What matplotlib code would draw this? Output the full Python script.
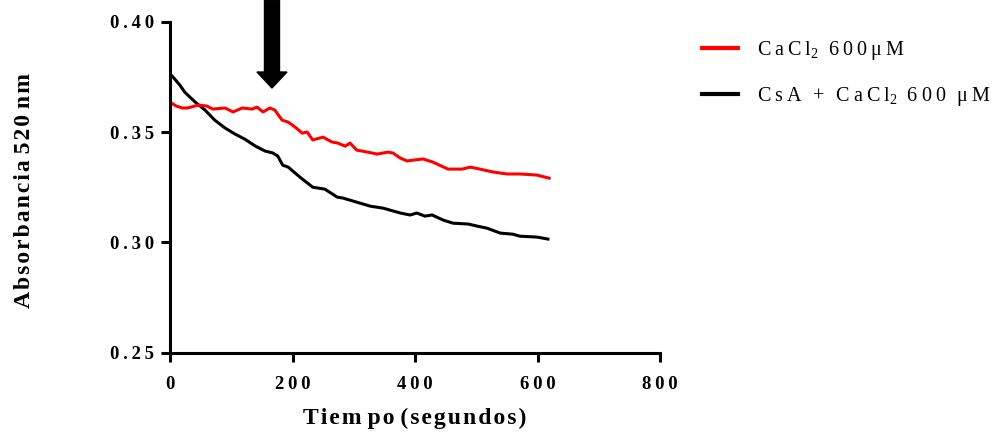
import matplotlib
matplotlib.use("Agg")
import matplotlib.pyplot as plt
from matplotlib.patches import FancyArrow
from matplotlib.lines import Line2D

# ---- data ----
red_label_parts = ["CaCl", "2", "600\u03bcM"]
black_label_parts = ["CsA + CaCl", "2", "600 \u03bcM"]

red_t = [0, 10, 20, 29, 46, 60, 70, 90, 103, 118, 134, 142, 152, 163, 171, 183, 193, 204,
         216, 224, 233, 250, 264, 274, 286, 294, 305, 323, 338, 356, 364, 376, 387, 413,
         429, 454, 477, 490, 506, 527, 550, 571, 599, 619]
red_abs = [0.3636, 0.3618, 0.3609, 0.3609, 0.3622, 0.3618, 0.3604, 0.3609, 0.3591, 0.3609,
           0.3604, 0.3613, 0.3591, 0.3609, 0.3600, 0.3554, 0.3545, 0.3523, 0.3495, 0.3500,
           0.3464, 0.3477, 0.3455, 0.3450, 0.3436, 0.3450, 0.3418, 0.3409, 0.3400, 0.3409,
           0.3405, 0.3382, 0.3369, 0.3378, 0.3364, 0.3332, 0.3332, 0.3341, 0.3332, 0.3319,
           0.3310, 0.3310, 0.3305, 0.3291]

black_t = [0, 5, 16, 24, 41, 57, 73, 90, 106, 122, 139, 155, 168, 176, 184, 193, 212, 233,
           253, 273, 282, 299, 327, 348, 376, 392, 403, 416, 428, 446, 462, 487, 501, 518,
           539, 560, 571, 599, 617]
black_abs = [0.3763, 0.3749, 0.3713, 0.3681, 0.3636, 0.3600, 0.3554, 0.3518, 0.3491, 0.3468,
             0.3437, 0.3414, 0.3405, 0.3391, 0.3350, 0.3341, 0.3296, 0.3250, 0.3241, 0.3205,
             0.3201, 0.3187, 0.3164, 0.3155, 0.3133, 0.3124, 0.3133, 0.3119, 0.3124, 0.3101,
             0.3087, 0.3083, 0.3074, 0.3064, 0.3042, 0.3037, 0.3028, 0.3024, 0.3015]

x_ticks = [0, 200, 400, 600, 800]
y_ticks = [0.25, 0.30, 0.35, 0.40]
arrow_t = 166.5
x_label = "Tiem po (segundos)"
y_label = "Absorbancia 520 nm"

SERIF = ['Liberation Serif', 'DejaVu Serif']


def spaced(s, sep, word_sep=' '):
    return word_sep.join(sep.join(w) for w in s.split(' '))


def chem_label(parts):
    a, sub, b = parts
    ws = '\u2002\u200a'
    return (spaced(a, '\u2009', ws) + r"$_{\mathregular{" + sub + r"}}$" + '\u2002'
            + spaced(b, '\u2009', ws))


fig = plt.figure(figsize=(10, 4.38), dpi=100)
ax = fig.add_axes([0.170, 1 - 352.7 / 438, 0.490, (352.7 - 21.7) / 438])

ax.plot(black_t, black_abs, color='black', lw=2.2, solid_joinstyle='round')
ax.plot(red_t, red_abs, color='#ff0000', lw=2.2, solid_joinstyle='round')

ax.set_xlim(0, 800)
ax.set_ylim(0.25, 0.40)
ax.set_xticks(x_ticks)
ax.set_yticks(y_ticks)
ax.set_xticklabels([spaced(str(v), '\u2009') for v in x_ticks])
ax.set_yticklabels([spaced(f"{v:.2f}", '\u2009') for v in y_ticks])
for lab in ax.get_xticklabels() + ax.get_yticklabels():
    lab.set_fontfamily(SERIF)
    lab.set_fontweight('bold')
    lab.set_fontsize(13.5)

for s in ['top', 'right']:
    ax.spines[s].set_visible(False)
for s in ['left', 'bottom']:
    ax.spines[s].set_linewidth(2.2)
ax.tick_params(axis='both', width=2.2, length=6.5, direction='out', color='black')
ax.tick_params(axis='x', pad=10)
ax.tick_params(axis='y', pad=5)

# arrow
arr = FancyArrow(arrow_t, 0.4098, 0, -(0.4098 - 0.36995), width=24.5, head_width=49,
                 head_length=0.00725, length_includes_head=True, color='black',
                 clip_on=False, zorder=5)
ax.add_patch(arr)

# axis labels
fig.text(415 / 1000, 1 - 418 / 438, spaced(x_label, '\u200a'), ha='center', va='center',
         fontsize=17, fontweight='bold', family=SERIF)
fig.text(25 / 1000, 1 - 190 / 438, spaced(y_label, '\u200a'), ha='center', va='center',
         rotation=90, fontsize=17, fontweight='bold', family=SERIF)

# legend
handles = [Line2D([], [], color='#ff0000', lw=3), Line2D([], [], color='black', lw=3)]
labels = [chem_label(red_label_parts), chem_label(black_label_parts)]
leg = fig.legend(handles, labels, loc='upper left', bbox_to_anchor=(0.702, 1 - 39 / 438),
                 frameon=False, borderpad=0, borderaxespad=0, handlelength=1.8,
                 handletextpad=0.95, labelspacing=1.15,
                 prop={'family': 'Liberation Serif', 'size': 14.5})

fig.savefig('out.png', dpi=100)
